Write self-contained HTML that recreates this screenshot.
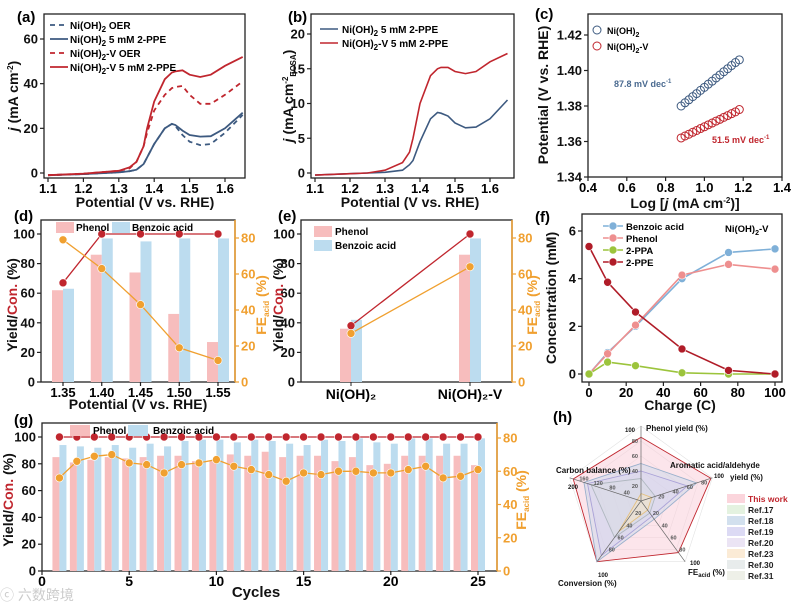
<!DOCTYPE html>
<html><head><meta charset="utf-8"><style>
html,body{margin:0;padding:0;background:#fff;width:800px;height:609px;overflow:hidden}
svg{display:block;font-family:"Liberation Sans","Noto Sans CJK SC",sans-serif;font-weight:bold}
</style></head><body>
<svg id="fig" width="800" height="609" viewBox="0 0 800 609" xmlns="http://www.w3.org/2000/svg">
<text x="17" y="22" font-size="15">(a)</text>
<text x="288" y="22" font-size="15">(b)</text>
<text x="535" y="19" font-size="15">(c)</text>
<text x="14" y="221" font-size="15">(d)</text>
<text x="278" y="221" font-size="15">(e)</text>
<text x="535" y="222" font-size="15">(f)</text>
<text x="14" y="425" font-size="15">(g)</text>
<text x="553" y="422" font-size="15">(h)</text>
<text x="0" y="600" font-size="14" fill="#ccc" font-weight="normal">ⓒ 六数跨境</text>
</svg>
<script>
// ---------- DATA ----------
const aPot=[1.1,1.2,1.3,1.33,1.35,1.37,1.38,1.4,1.43,1.45,1.46,1.48,1.5,1.53,1.56,1.6,1.65];
const aNiOER=[-1,-0.5,0.3,0.8,1.5,4,7,13,20,22,21,17,14,12.5,13,18,26];
const aNiPPE=[-1,-0.5,0.3,0.8,1.5,4,7,13,20,22,21.5,19,17,16.3,16.5,20,27];
const aVOER=[-1,-0.3,1,2,5,12,18,28,35,38,38.5,39,35,31,31,35,41];
const aVPPE=[-1,-0.3,1,2.5,5,12,20,32,42,45,45.5,46,44,43,44,48,52];
const bPot=[1.1,1.2,1.25,1.3,1.35,1.37,1.38,1.4,1.43,1.45,1.46,1.48,1.5,1.53,1.56,1.6,1.65];
const bNi=[-0.3,-0.1,0,0.1,0.4,1.2,1.8,4.5,7.8,8.7,8.6,8.2,7.2,6.5,6.6,7.8,10.5];
const bV=[-0.3,-0.1,0,0.4,1.5,3,5,10,14,15,15.2,15.2,14.6,14.3,14.6,16,17.2];
const cLogJ=[0.88,0.90,0.92,0.94,0.96,0.98,1.00,1.02,1.04,1.06,1.08,1.10,1.12,1.14,1.16,1.18];
const cNi=[1.380,1.3818,1.3835,1.3853,1.387,1.3888,1.3905,1.3923,1.394,1.3958,1.3975,1.3993,1.401,1.4028,1.4045,1.406];
const cV=[1.362,1.3631,1.3641,1.3652,1.3662,1.3673,1.3683,1.3694,1.3704,1.3715,1.3725,1.3736,1.3746,1.3757,1.3767,1.378];
const dCats=["1.35","1.40","1.45","1.50","1.55"];
const dPhenol=[62,86,74,46,27];
const dBenzoic=[63,97,95,97,97];
const dConv=[67,100,100,100,100];
const dFE=[79,63,43,19,12];
const eCats=["Ni(OH)₂","Ni(OH)₂-V"];
const ePhenol=[36,86];
const eBenzoic=[42,97];
const eConv=[38,100];
const eFE=[27,64];
const fCharge=[0,10,25,50,75,100];
const fBenzoic=[0,0.9,2.0,4.0,5.1,5.25];
const fPhenol=[0,0.85,2.05,4.15,4.6,4.4];
const fPPA=[0,0.5,0.35,0.05,0,0];
const fPPE=[5.35,3.85,2.6,1.05,0.15,0];
const gCycles=[1,2,3,4,5,6,7,8,9,10,11,12,13,14,15,16,17,18,19,20,21,22,23,24,25];
const gPhenol=[85,81,83,85,84,85,86,86,82,82,87,86,89,85,86,86,82,85,79,80,86,86,86,86,79];
const gBenzoic=[94,93,92,94,92,95,93,97,98,98,96,98,97,95,94,98,97,99,96,95,99,99,95,95,99];
const gConv=[100,100,100,100,100,100,100,100,100,100,100,100,100,100,100,100,100,100,100,100,100,100,100,100,100];
const gFE=[56,66,69,70,65,64,59,64,65,67,63,61,58,54,59,58,60,60,59,59,61,63,56,57,61];
const hAxes=["Phenol yield","Aromatic acid","FE","Conversion","Carbon balance"];
const hMax=[100,100,100,100,200];
const hThis=[85,98,85,100,190];
const hRef18=[50,78,30,100,160];
const hRef19=[40,65,25,90,150];
const hRef20=[30,20,20,60,140];
const hRef23=[10,15,15,50,10];

// ---------- HELPERS ----------
const NS="http://www.w3.org/2000/svg";
const svg=document.getElementById('fig');
function el(tag,attrs,parent,txt){const e=document.createElementNS(NS,tag);for(const k in attrs)e.setAttribute(k,attrs[k]);if(txt!==undefined)e.textContent=txt;(parent||svg).appendChild(e);return e;}
function lin(d0,d1,r0,r1){return v=>r0+(v-d0)*(r1-r0)/(d1-d0);}
function frame(L,T,R,B,name){const r=el('rect',{x:L,y:T,width:R-L,height:B-T,fill:'none',stroke:'#222','stroke-width':1.3});}
function xTicks(vals,sx,B,labels,name,fs){vals.forEach((v,i)=>{el('line',{x1:sx(v),x2:sx(v),y1:B,y2:B+4,stroke:'#222','stroke-width':1.2});const t=el('text',{x:sx(v),y:B+15,'font-size':fs||13,'text-anchor':'middle'},svg,labels[i]);});}
function yTicks(vals,sy,L,labels,name,color,right){vals.forEach((v,i)=>{el('line',{x1:L,x2:right?L+4:L-4,y1:sy(v),y2:sy(v),stroke:color||'#222','stroke-width':1.2});const t=el('text',{x:right?L+6:L-6,y:sy(v)+4.5,'font-size':13,'text-anchor':right?'start':'end',fill:color||'#111'},svg,labels[i]);});}
function pathOf(xs,ys,sx,sy){return xs.map((x,i)=>(i?'L':'M')+sx(x).toFixed(1)+','+sy(ys[i]).toFixed(1)).join(' ');}
function title(x,y,txt,name,rot,fs,color){const t=el('text',{x:x,y:y,'font-size':fs||13,'text-anchor':'middle',fill:color||'#111',transform:rot?`rotate(-90 ${x} ${y})`:''},svg);t.innerHTML=txt;return t;}
function ball(x,y,c,name){const b=el('circle',{cx:x,cy:y,r:4,fill:c,stroke:'#fff','stroke-width':0.6});}
const RED='#c0262e',BLUE='#3d5a80',ORG='#f0a030',PINK='#f7bdbd',LBLUE='#bcdcef';

// ---------- (a) ----------
(function(){const L=44,R=245,T=14,B=178;const sx=lin(1.1,1.6,48,225),sy=lin(0,60,173,39);
frame(L,T,R,B,'panel-a-axes');
xTicks([1.1,1.2,1.3,1.4,1.5,1.6],sx,B,['1.1','1.2','1.3','1.4','1.5','1.6'],'a-x-tick');
yTicks([0,20,40,60],sy,L,['0','20','40','60'],'a-y-tick');
[[aNiOER,BLUE,'5,4','a-line-ni-oer'],[aNiPPE,BLUE,'','a-line-ni-ppe'],[aVOER,RED,'5,4','a-line-v-oer'],[aVPPE,RED,'','a-line-v-ppe']].forEach(s=>{const p=el('path',{d:pathOf(aPot,s[0],sx,sy),fill:'none',stroke:s[1],'stroke-width':1.8,'stroke-dasharray':s[2]});});
const lg=[['Ni(OH)<tspan font-size="8" dy="3">2</tspan><tspan dy="-3"> OER</tspan>',BLUE,'5,4'],['Ni(OH)<tspan font-size="8" dy="3">2</tspan><tspan dy="-3"> 5 mM 2-PPE</tspan>',BLUE,''],['Ni(OH)<tspan font-size="8" dy="3">2</tspan><tspan dy="-3">-V OER</tspan>',RED,'5,4'],['Ni(OH)<tspan font-size="8" dy="3">2</tspan><tspan dy="-3">-V 5 mM 2-PPE</tspan>',RED,'']];
lg.forEach((g,i)=>{const y=25+i*14;el('line',{x1:50,x2:68,y1:y,y2:y,stroke:g[1],'stroke-width':1.8,'stroke-dasharray':g[2]});const t=el('text',{x:70,y:y+4,'font-size':10},svg);t.innerHTML=g[0];});
title(145,207,'Potential (V vs. RHE)','a-x-axis-title',false,14);
title(18,96,'<tspan font-style="italic">j</tspan> (mA cm<tspan font-size="8" dy="-5">-2</tspan><tspan dy="5">)</tspan>','a-y-axis-title',true,14);
})();

// ---------- (b) ----------
(function(){const L=311,R=514,T=14,B=178;const sx=lin(1.1,1.6,315,490),sy=lin(0,20,173,34);
frame(L,T,R,B,'panel-b-axes');
xTicks([1.1,1.2,1.3,1.4,1.5,1.6],sx,B,['1.1','1.2','1.3','1.4','1.5','1.6'],'b-x-tick');
yTicks([0,5,10,15,20],sy,L,['0','5','10','15','20'],'b-y-tick');
[[bNi,BLUE,'b-line-ni'],[bV,RED,'b-line-v']].forEach(s=>{const p=el('path',{d:pathOf(bPot,s[0],sx,sy),fill:'none',stroke:s[1],'stroke-width':1.6});});
[['Ni(OH)<tspan font-size="8" dy="3">2</tspan><tspan dy="-3"> 5 mM 2-PPE</tspan>',BLUE],['Ni(OH)<tspan font-size="8" dy="3">2</tspan><tspan dy="-3">-V 5 mM 2-PPE</tspan>',RED]].forEach((g,i)=>{const y=29+i*14;el('line',{x1:320,x2:338,y1:y,y2:y,stroke:g[1],'stroke-width':1.6});const t=el('text',{x:342,y:y+4,'font-size':10},svg);t.innerHTML=g[0];});
title(410,207,'Potential (V vs. RHE)','b-x-axis-title',false,14);
title(293,96,'<tspan font-style="italic">j</tspan> (mA cm<tspan font-size="8" dy="-5">-2</tspan><tspan font-size="8" dy="8">ECSA</tspan><tspan dy="-3">)</tspan>','b-y-axis-title',true,14);
})();

// ---------- (c) ----------
(function(){const L=588,R=782,T=14,B=177;const sx=lin(0.4,1.4,588,782),sy=lin(1.34,1.42,177,35);
frame(L,T,R,B,'panel-c-axes');
xTicks([0.4,0.6,0.8,1.0,1.2,1.4],sx,B,['0.4','0.6','0.8','1.0','1.2','1.4'],'c-x-tick');
yTicks([1.34,1.36,1.38,1.40,1.42],sy,L,['1.34','1.36','1.38','1.40','1.42'],'c-y-tick');
cLogJ.forEach((x,i)=>{const a=el('circle',{cx:sx(x),cy:sy(cNi[i]),r:4,fill:'none',stroke:BLUE,'stroke-width':1});
const b=el('circle',{cx:sx(x),cy:sy(cV[i]),r:4,fill:'none',stroke:RED,'stroke-width':1});});
el('circle',{cx:597,cy:30,r:4,fill:'none',stroke:BLUE});el('circle',{cx:597,cy:46,r:4,fill:'none',stroke:RED});
let t=el('text',{x:607,y:34,'font-size':9},svg);t.innerHTML='Ni(OH)<tspan font-size="7" dy="3">2</tspan>';
t=el('text',{x:607,y:50,'font-size':9},svg);t.innerHTML='Ni(OH)<tspan font-size="7" dy="3">2</tspan><tspan dy="-3">-V</tspan>';
t=el('text',{x:614,y:87,'font-size':9,fill:'#4a6a90'},svg);t.innerHTML='87.8 mV dec<tspan font-size="6" dy="-4">-1</tspan>';
t=el('text',{x:712,y:143,'font-size':9,fill:RED},svg);t.innerHTML='51.5 mV dec<tspan font-size="6" dy="-4">-1</tspan>';
title(685,208,'Log [<tspan font-style="italic">j</tspan> (mA cm<tspan font-size="8" dy="-5">-2</tspan><tspan dy="5">)]</tspan>','c-x-axis-title',false,14);
title(548,95,'Potential (V vs. RHE)','c-y-axis-title',true,14);
})();

// ---------- (d) ----------
(function(){const L=41,R=235,T=220,B=382;const sy=lin(0,100,382,234),sr=lin(0,80,382,238);
const sx=i=>63+i*38.75;
frame(L,T,R,B,'panel-d-axes');
dCats.forEach((c,i)=>{const x=sx(i);
let r=el('rect',{x:x-11,y:sy(dPhenol[i]),width:11,height:B-sy(dPhenol[i]),fill:PINK});
r=el('rect',{x:x,y:sy(dBenzoic[i]),width:11,height:B-sy(dBenzoic[i]),fill:LBLUE});});
el('path',{d:dConv.map((v,i)=>(i?'L':'M')+sx(i)+','+sy(v)).join(' '),fill:'none',stroke:RED,'stroke-width':1.3});
el('path',{d:dFE.map((v,i)=>(i?'L':'M')+sx(i)+','+sr(v)).join(' '),fill:'none',stroke:ORG,'stroke-width':1.3});
dConv.forEach((v,i)=>ball(sx(i),sy(v),RED,'d-point-conversion'));
dFE.forEach((v,i)=>ball(sx(i),sr(v),ORG,'d-point-fe'));
xTicks(dCats.map((c,i)=>i),sx,B,dCats,'d-x-tick');
yTicks([0,20,40,60,80,100],sy,L,['0','20','40','60','80','100'],'d-y-tick');
el('line',{x1:R,x2:R,y1:T,y2:B,stroke:ORG,'stroke-width':1.5});
yTicks([0,20,40,60,80],sr,R,['0','20','40','60','80'],'d-y2-tick',ORG,true);
el('rect',{x:56,y:222,width:18,height:11,fill:PINK});el('rect',{x:112,y:222,width:18,height:11,fill:LBLUE});
let t=el('text',{x:76,y:231,'font-size':10},svg,'Phenol');
t=el('text',{x:132,y:231,'font-size':10},svg,'Benzoic acid');
title(138,409,'Potential (V vs. RHE)','d-x-axis-title',false,14);
title(17,305,'Yield/<tspan fill="'+RED+'">Con.</tspan> (%)','d-y-axis-title',true,14);
title(266,305,'FE<tspan font-size="8" dy="3">acid</tspan><tspan dy="-3"> (%)</tspan>','d-y2-axis-title',true,14,ORG);
})();

// ---------- (e) ----------
(function(){const L=301,R=512,T=220,B=382;const sy=lin(0,100,382,234),sr=lin(0,80,382,238);
const sx=i=>351+i*119;
frame(L,T,R,B,'panel-e-axes');
eCats.forEach((c,i)=>{const x=sx(i);
let r=el('rect',{x:x-11,y:sy(ePhenol[i]),width:11,height:B-sy(ePhenol[i]),fill:PINK});
r=el('rect',{x:x,y:sy(eBenzoic[i]),width:11,height:B-sy(eBenzoic[i]),fill:LBLUE});});
el('path',{d:eConv.map((v,i)=>(i?'L':'M')+sx(i)+','+sy(v)).join(' '),fill:'none',stroke:RED,'stroke-width':1.3});
el('path',{d:eFE.map((v,i)=>(i?'L':'M')+sx(i)+','+sr(v)).join(' '),fill:'none',stroke:ORG,'stroke-width':1.3});
eConv.forEach((v,i)=>ball(sx(i),sy(v),RED,'e-point-conversion'));
eFE.forEach((v,i)=>ball(sx(i),sr(v),ORG,'e-point-fe'));
eCats.forEach((c,i)=>{el('line',{x1:sx(i),x2:sx(i),y1:B,y2:B+4,stroke:'#222'});const t=el('text',{x:sx(i),y:B+17,'font-size':14,'text-anchor':'middle'},svg,c);});
yTicks([0,20,40,60,80,100],sy,L,['0','20','40','60','80','100'],'e-y-tick');
el('line',{x1:R,x2:R,y1:T,y2:B,stroke:ORG,'stroke-width':1.5});
yTicks([0,20,40,60,80],sr,R,['0','20','40','60','80'],'e-y2-tick',ORG,true);
el('rect',{x:314,y:226,width:18,height:11,fill:PINK});el('rect',{x:314,y:240,width:18,height:11,fill:LBLUE});
let t=el('text',{x:335,y:235,'font-size':10},svg,'Phenol');
t=el('text',{x:335,y:249,'font-size':10},svg,'Benzoic acid');
title(283,305,'Yield/<tspan fill="'+RED+'">Con.</tspan> (%)','e-y-axis-title',true,14);
title(537,305,'FE<tspan font-size="8" dy="3">acid</tspan><tspan dy="-3"> (%)</tspan>','e-y2-axis-title',true,14,ORG);
})();

// ---------- (f) ----------
(function(){const L=582,R=782,T=214,B=382;const sx=lin(0,100,589,775),sy=lin(0,6,374,231);
frame(L,T,R,B,'panel-f-axes');
const ser=[[fBenzoic,'#7fb0d8','f-line-benzoic'],[fPhenol,'#ee8f8f','f-line-phenol'],[fPPA,'#9cc43c','f-line-ppa'],[fPPE,'#b01c28','f-line-ppe']];
ser.forEach(s=>{const p=el('path',{d:pathOf(fCharge,s[0],sx,sy),fill:'none',stroke:s[1],'stroke-width':1.6});
fCharge.forEach((x,i)=>ball(sx(x),sy(s[0][i]),s[1],s[2]+'-point'));});
xTicks([0,20,40,60,80,100],sx,B,['0','20','40','60','80','100'],'f-x-tick');
yTicks([0,2,4,6],sy,L,['0','2','4','6'],'f-y-tick');
['Benzoic acid','Phenol','2-PPA','2-PPE'].forEach((n,i)=>{const y=226+i*12;el('line',{x1:603,x2:623,y1:y,y2:y,stroke:ser[i][1],'stroke-width':1.6});ball(613,y,ser[i][1],'f-legend-marker');const t=el('text',{x:626,y:y+4,'font-size':9.5},svg,n);});
let t=el('text',{x:725,y:232,'font-size':9.5},svg);t.innerHTML='Ni(OH)<tspan font-size="7" dy="3">2</tspan><tspan dy="-3">-V</tspan>';
title(680,410,'Charge (C)','f-x-axis-title',false,14);
title(556,298,'Concentration (mM)','f-y-axis-title',true,14);
})();

// ---------- (g) ----------
(function(){const L=42,R=497,T=423,B=571;const sx=lin(0,25,42,478),sy=lin(0,100,571,437),sr=lin(0,80,571,438);
frame(L,T,R,B,'panel-g-axes');
gCycles.forEach((c,i)=>{const x=sx(c);
let r=el('rect',{x:x-7,y:sy(gPhenol[i]),width:7,height:B-sy(gPhenol[i]),fill:PINK});
r=el('rect',{x:x,y:sy(gBenzoic[i]),width:7,height:B-sy(gBenzoic[i]),fill:LBLUE});});
el('path',{d:pathOf(gCycles,gConv,sx,sy),fill:'none',stroke:RED,'stroke-width':1.3});
el('path',{d:pathOf(gCycles,gFE,sx,sr),fill:'none',stroke:ORG,'stroke-width':1.3});
gCycles.forEach((c,i)=>{ball(sx(c),sy(gConv[i]),RED,'g-point-conversion');ball(sx(c),sr(gFE[i]),ORG,'g-point-fe');});
xTicks([0,5,10,15,20,25],sx,B,['0','5','10','15','20','25'],'g-x-tick',14);
yTicks([0,20,40,60,80,100],sy,L,['0','20','40','60','80','100'],'g-y-tick');
el('line',{x1:R,x2:R,y1:T,y2:B,stroke:ORG,'stroke-width':1.5});
yTicks([0,20,40,60,80],sr,R,['0','20','40','60','80'],'g-y2-tick',ORG,true);
el('rect',{x:70,y:425,width:20,height:11,fill:PINK});el('rect',{x:128,y:425,width:20,height:11,fill:LBLUE});
let t=el('text',{x:93,y:434,'font-size':10},svg,'Phenol');
t=el('text',{x:153,y:434,'font-size':10},svg,'Benzoic acid');
title(256,597,'Cycles','g-x-axis-title',false,15);
title(13,500,'Yield/<tspan fill="'+RED+'">Con.</tspan> (%)','g-y-axis-title',true,14);
title(526,500,'FE<tspan font-size="8" dy="3">acid</tspan><tspan dy="-3"> (%)</tspan>','g-y2-axis-title',true,14,ORG);
})();

// ---------- (h) ----------
(function(){const cx=641,cy=501,Rr=75;
const ang=k=>(-90+k*72)*Math.PI/180;
const pt=(k,f)=>[cx+Rr*f*Math.cos(ang(k)),cy+Rr*f*Math.sin(ang(k))];
[0.2,0.4,0.6,0.8,1].forEach(f=>{el('polygon',{points:[0,1,2,3,4].map(k=>pt(k,f).join(',')).join(' '),fill:'none',stroke:'#e2e2e2','stroke-width':0.6});});
const polys=[[hThis,'#f9d0da',RED,'h-poly-this-work',0.55],[hRef18,'#c6d6ea','#9ab0cc','h-poly-ref18',0.45],[hRef19,'#d6d2f0','#aaa2d8','h-poly-ref19',0.4],[hRef20,'#d8dde2','#b0b8c0','h-poly-ref20',0.4],[hRef23,'#f8e6c2','#e4c080','h-poly-ref23',0.5]];
polys.forEach(p=>{const pg=el('polygon',{points:p[0].map((v,k)=>pt(k,v/hMax[k]).join(',')).join(' '),fill:p[1],'fill-opacity':p[4],stroke:p[2],'stroke-width':0.9});});
[0,1,2,3,4].forEach(k=>{const p=pt(k,1.0);el('line',{x1:cx,y1:cy,x2:p[0],y2:p[1],stroke:'#666','stroke-width':0.7});});
const lab=(x,y,s,fs,name,anchor,col)=>{const t=el('text',{x:x,y:y,'font-size':fs,'text-anchor':anchor||'start',fill:col||'#111'},svg);t.innerHTML=s;};
lab(646,431,'Phenol yield (%)',8,'h-axis-label-phenol');
lab(670,468,'Aromatic acid/aldehyde',8,'h-axis-label-aromatic');
lab(730,480,'yield (%)',8,'h-axis-label-aromatic-2');
lab(556,473,'Carbon balance (%)',8,'h-axis-label-carbon');
lab(558,586,'Conversion (%)',8,'h-axis-label-conversion');
lab(688,575,'FE<tspan font-size="6" dy="2">acid</tspan><tspan dy="-2"> (%)</tspan>',8,'h-axis-label-fe');
[0.2,0.4,0.6,0.8].forEach(f=>{[0,1,2,3].forEach(k=>{const p=pt(k,f);lab(p[0]+(k==0?-3:3),p[1]+2,String(f*100),5.5,'h-tick',k==0?'end':'start','#555');});const p=pt(4,f);lab(p[0],p[1]-2,String(f*200),5.5,'h-tick','middle','#555');});
lab(635,432,'100',6,'h-tick','end');lab(568,489,'200',6,'h-tick');lab(714,478,'100',6,'h-tick');lab(598,577,'100',6,'h-tick');lab(690,565,'100',6,'h-tick');
const names=[['This work',RED,'#fbd5dc'],['Ref.17','#222','#e4f2e0'],['Ref.18','#222','#d2e0ee'],['Ref.19','#222','#dcdaf4'],['Ref.20','#222','#ebe4f4'],['Ref.23','#222','#fbebd6'],['Ref.30','#222','#e8ecec'],['Ref.31','#222','#eef0e8']];
names.forEach((n,i)=>{const y=494+i*11;el('rect',{x:727,y:y,width:18,height:9,fill:n[2]});const t=el('text',{x:748,y:y+8,'font-size':8.5,fill:n[1]},svg,n[0]);});
})();
</script>
</body></html>
